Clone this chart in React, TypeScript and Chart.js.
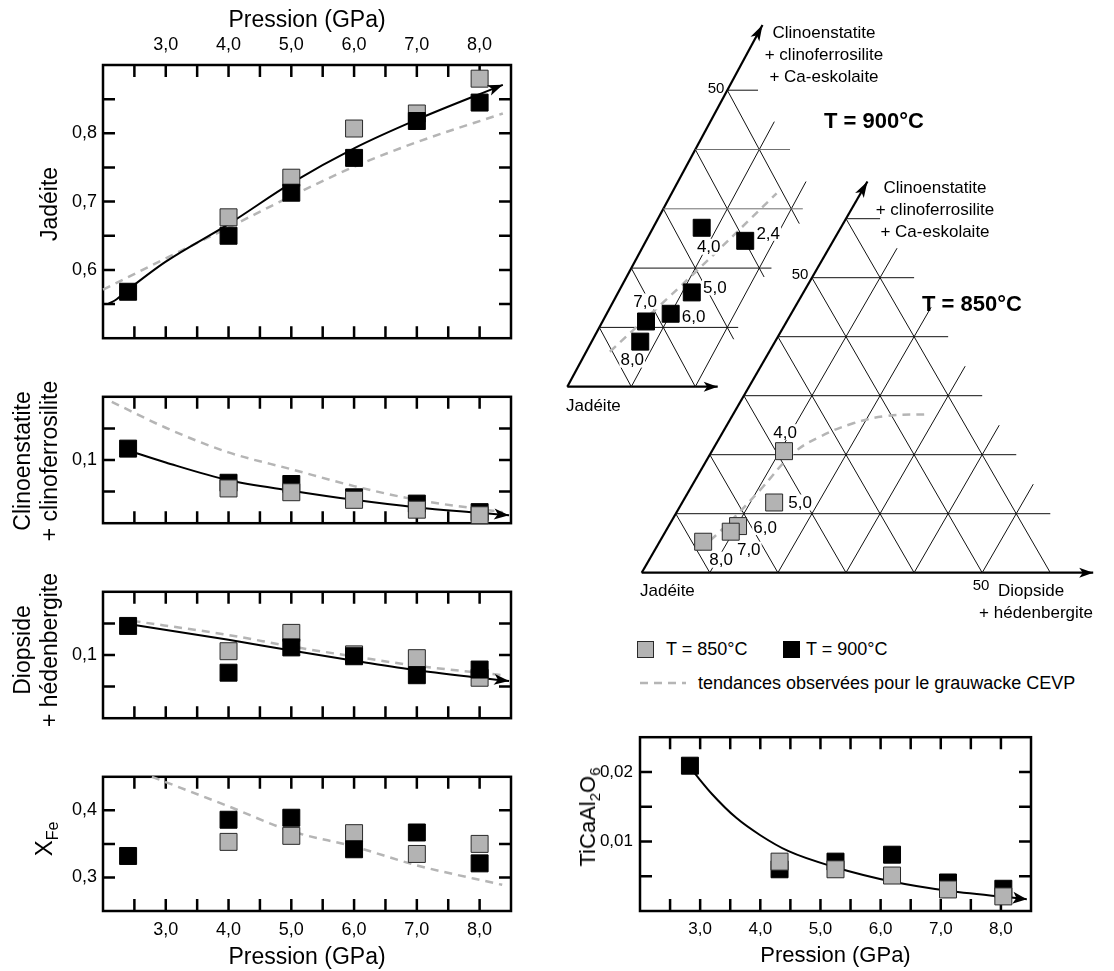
import React, { useEffect, useRef } from 'react';
import { Chart, registerables } from 'chart.js';

Chart.register(...registerables);
const FONT = "'Liberation Sans', Arial, Helvetica, sans-serif";
Chart.defaults.font.family = FONT;
Chart.defaults.color = '#000';

// ================= DATA =================
const pressures900 = [2.4, 4.0, 5.0, 6.0, 7.0, 8.0];
const pressures850 = [4.0, 5.0, 6.0, 7.0, 8.0];
const pressureLabels = [3, 4, 5, 6, 7, 8];
const pressureMarks = [2.5, 3, 3.5, 4, 4.5, 5, 5.5, 6, 6.5, 7, 7.5, 8];

// Jadéite
const jadeite900 = [0.568, 0.65, 0.713, 0.764, 0.818, 0.845];
const jadeite850 = [0.677, 0.735, 0.807, 0.829, 0.88];
const jadeiteFitP = [2.08, 2.2, 2.4, 3.0, 4.0, 5.0, 6.0, 7.0, 8.37];
const jadeiteFit = [0.55, 0.556, 0.571, 0.612, 0.667, 0.727, 0.778, 0.82, 0.871];
const jadeiteCevpP = [2.0, 3.0, 4.0, 5.0, 6.0, 7.0, 8.37];
const jadeiteCevp = [0.571, 0.617, 0.662, 0.708, 0.751, 0.787, 0.829];
const jadeiteYLabels = [0.6, 0.7, 0.8];
const jadeiteYMarks = [0.55, 0.6, 0.65, 0.7, 0.75, 0.8, 0.85];

// Clinoenstatite + clinoferrosilite
const clino900 = [0.118, 0.064, 0.062, 0.041, 0.031, 0.0175];
const clino850 = [0.055, 0.049, 0.037, 0.0214, 0.0126];
const clinoFitP = [2.4, 3.0, 4.0, 5.0, 6.0, 7.0, 8.0, 8.47];
const clinoFit = [0.115, 0.096, 0.068, 0.0515, 0.037, 0.025, 0.0165, 0.0126];
const clinoCevpP = [2.14, 3.0, 4.0, 5.0, 6.0, 7.0, 8.0, 8.37];
const clinoCevp = [0.192, 0.151, 0.112, 0.0854, 0.0587, 0.0369, 0.0223, 0.0175];

// Diopside + hédenbergite
const diop900 = [0.146, 0.072, 0.112, 0.098, 0.068, 0.077];
const diop850 = [0.106, 0.135, 0.101, 0.095, 0.064];
const diopFitP = [2.4, 4.0, 5.0, 6.0, 7.0, 8.47];
const diopFit = [0.149, 0.124, 0.107, 0.091, 0.0757, 0.0587];
const diopCevpP = [2.47, 4.0, 5.0, 6.0, 7.0, 8.37];
const diopCevp = [0.154, 0.1316, 0.1136, 0.0976, 0.083, 0.068];
const pyxYLabels = [0.1];
const pyxYMarks = [0.05, 0.1, 0.15];

// XFe
const xfe900 = [0.332, 0.386, 0.389, 0.342, 0.367, 0.321];
const xfe850 = [0.353, 0.362, 0.366, 0.335, 0.35];
const xfeCevpP = [2.78, 4.0, 5.0, 6.0, 7.0, 8.36];
const xfeCevp = [0.45, 0.406, 0.369, 0.346, 0.318, 0.289];
const xfeYLabels = [0.3, 0.4];
const xfeYMarks = [0.3, 0.35, 0.4];

// TiCaAl2O6
const tiP900 = [2.83, 4.32, 5.25, 6.19, 7.12, 8.04];
const tiP850 = [4.32, 5.25, 6.19, 7.12, 8.04];
const ti900 = [0.0209, 0.006, 0.0071, 0.0081, 0.0041, 0.0032];
const ti850 = [0.0071, 0.006, 0.0051, 0.0031, 0.0021];
const tiFitP = [2.89, 3.2, 3.6, 4.0, 4.47, 5.24, 6.21, 7.12, 8.43];
const tiFit = [0.02, 0.0168, 0.0134, 0.0109, 0.0086, 0.0063, 0.0042, 0.0029, 0.0017];
const tiYLabels = [0.01, 0.02];
const tiYMarks = [0.005, 0.01, 0.015, 0.02];

// Ternary (fractions of clinoenstatite+... apex and diopside+hédenbergite)
const tern900Labels = ['2,4', '4,0', '5,0', '6,0', '7,0', '8,0'];
const tern900Cen = [0.246, 0.268, 0.159, 0.123, 0.11, 0.076];
const tern900Di = [0.155, 0.076, 0.115, 0.1, 0.068, 0.076];
const tern850Labels = ['4,0', '5,0', '6,0', '7,0', '8,0'];
const tern850Cen = [0.206, 0.119, 0.079, 0.0695, 0.0525];
const tern850Di = [0.106, 0.135, 0.102, 0.096, 0.064];
const cevp900Cen = [0.059, 0.19, 0.326];
const cevp900Di = [0.037, 0.102, 0.164];
const cevp850Cen = [0.0385, 0.0864, 0.14, 0.2024, 0.2305, 0.2532, 0.2656, 0.2685];
const cevp850Di = [0.0663, 0.0865, 0.1037, 0.1214, 0.1465, 0.184, 0.227, 0.2843];

// ternary grid: [const value, end]
const grid900H = [[0.1, 0.217], [0.2, 0.219], [0.3, 0.218], [0.4, 0.148], [0.5, 0.048]];
const grid900D = [[0.1, 0.447], [0.2, 0.346]];
const grid900S = [[0.1, 0], [0.2, 0], [0.3, 0.08], [0.4, 0.185], [0.5, 0.275]];
const edge900 = { cen: 0.61, di: 0.235 };
const grid850H = [[0.1, 0.55], [0.2, 0.45], [0.3, 0.35], [0.4, 0.25], [0.5, 0.15], [0.6, 0.05]];
const grid850D = [[0.1, 0.55], [0.2, 0.45], [0.3, 0.35], [0.4, 0.25], [0.5, 0.15]];
const grid850S = [[0.1, 0], [0.2, 0], [0.3, 0], [0.4, 0], [0.5, 0], [0.6, 0]];
const edge850 = { cen: 0.663, di: 0.663 };

// ================= STYLE / LAYOUT =================
const GRAY_FILL = '#b3b3b3';
const GRAY_EDGE = '#2a2a2a';
const DASH_COLOR = '#b5b5b5';
const DASH = [8, 6];
const SQUARE_R = 12;
const grid900HColors = ['#111', '#111', '#707070', '#707070', '#111'];
const grid850HColors = ['#111', '#111', '#111', '#111', '#111', '#111'];

const label900Offsets = [[23, -8], [7, 19], [23, -5], [23, 3], [-1, -20], [-8, 18]];
const label850Offsets = [[1, -19], [26, 0], [27, 1], [18, 18], [18, 18]];

const TERN900 = { ox: 567.3, oy: 386.7, sx: 640, sy: 593, left: 560, top: 15, width: 270, height: 385 };
const TERN850 = { ox: 641.7, oy: 572.7, sx: 681, sy: 590, left: 630, top: 170, width: 480, height: 420 };

const fmt = (d: number) => (v: any) => Number(v).toFixed(d).replace('.', ',');
const zip = (xs: number[], ys: number[]) => xs.map((x, i) => ({ x, y: ys[i] }));

// ================= PLUGINS =================
const framePlugin = {
  id: 'frameTicks',
  beforeDatasetsDraw(chart: any, _a: any, opts: any) {
    if (!opts || !opts.xTicks) return;
    const { ctx, chartArea: a } = chart;
    const xs = chart.scales.x;
    const ys = chart.scales.y;
    const L = opts.len;
    ctx.save();
    ctx.strokeStyle = '#000';
    ctx.lineWidth = opts.width;
    ctx.beginPath();
    opts.xTicks.forEach((v: number) => {
      const p = xs.getPixelForValue(v);
      ctx.moveTo(p, a.top);
      ctx.lineTo(p, a.top + L);
      ctx.moveTo(p, a.bottom);
      ctx.lineTo(p, a.bottom - L);
    });
    opts.yTicks.forEach((v: number) => {
      const p = ys.getPixelForValue(v);
      ctx.moveTo(a.left, p);
      ctx.lineTo(a.left + L, p);
      ctx.moveTo(a.right, p);
      ctx.lineTo(a.right - L, p);
    });
    ctx.stroke();
    ctx.strokeRect(a.left, a.top, a.right - a.left, a.bottom - a.top);
    ctx.restore();
  },
};

const arrowPlugin = {
  id: 'arrowHeads',
  afterDatasetsDraw(chart: any) {
    const ctx = chart.ctx;
    chart.data.datasets.forEach((ds: any, i: number) => {
      if (!ds.arrowHead) return;
      const pts = chart.getDatasetMeta(i).data;
      const n = pts.length;
      if (n < 2) return;
      const a = pts[n - 2];
      const b = pts[n - 1];
      const ang = Math.atan2(b.y - a.y, b.x - a.x);
      const { len, width } = ds.arrowHead;
      ctx.save();
      ctx.translate(b.x, b.y);
      ctx.rotate(ang);
      ctx.beginPath();
      ctx.moveTo(0, 0);
      ctx.lineTo(-len, -width / 2);
      ctx.lineTo(-len * 0.75, 0);
      ctx.lineTo(-len, width / 2);
      ctx.closePath();
      ctx.fillStyle = '#000';
      ctx.fill();
      ctx.restore();
    });
  },
};

const labelPlugin = {
  id: 'pointLabels',
  afterDatasetsDraw(chart: any) {
    const ctx = chart.ctx;
    chart.data.datasets.forEach((ds: any, i: number) => {
      if (!ds.pointLabels) return;
      const meta = chart.getDatasetMeta(i);
      ctx.save();
      ctx.font = `17px ${FONT}`;
      ctx.textAlign = 'center';
      ctx.textBaseline = 'middle';
      meta.data.forEach((el: any, j: number) => {
        const [dx, dy] = ds.labelOffsets[j];
        const x = el.x + dx;
        const y = el.y + dy;
        const t = ds.pointLabels[j];
        const w = ctx.measureText(t).width;
        ctx.fillStyle = '#fff';
        ctx.fillRect(x - w / 2 - 1, y - 8, w + 2, 16);
        ctx.fillStyle = '#000';
        ctx.fillText(t, x, y + 1);
      });
      ctx.restore();
    });
  },
};

// ================= BUILDERS =================
function squares(xs: number[], ys: number[], kind: 'black' | 'gray') {
  return {
    data: zip(xs, ys),
    showLine: false,
    pointStyle: 'rect',
    pointRadius: SQUARE_R,
    pointHoverRadius: SQUARE_R,
    backgroundColor: kind === 'black' ? '#000' : GRAY_FILL,
    borderColor: kind === 'black' ? '#000' : GRAY_EDGE,
    borderWidth: 1,
    clip: false,
  };
}

function trend(xs: number[], ys: number[], kind: 'solid' | 'dashed', arrow?: any) {
  return {
    data: zip(xs, ys),
    showLine: true,
    pointRadius: 0,
    pointHoverRadius: 0,
    borderColor: kind === 'solid' ? '#000' : DASH_COLOR,
    borderWidth: kind === 'solid' ? 2 : 2.5,
    borderDash: kind === 'solid' ? [] : DASH,
    cubicInterpolationMode: 'monotone',
    fill: false,
    clip: false,
    arrowHead: arrow,
  };
}

function pressureConfig(o: any) {
  const xScale: any = {
    type: 'linear',
    min: 2,
    max: 8.5,
    display: !!o.xAxis,
    position: o.xAxis || 'bottom',
    grid: { display: false, drawTicks: false },
    border: { display: false },
    ticks: {
      font: { size: o.tickSize },
      padding: o.xTickPad,
      autoSkip: false,
      maxRotation: 0,
      minRotation: 0,
      color: '#000',
      callback: fmt(1),
    },
    afterBuildTicks: (s: any) => {
      s.ticks = pressureLabels.map((v) => ({ value: v }));
    },
    afterFit: (s: any) => {
      s.height = o.xHeight || 0;
    },
    title: {
      display: !!o.xAxis,
      text: 'Pression (GPa)',
      font: { size: o.titleSize },
      padding: o.xTitlePad,
      color: '#000',
    },
  };
  const yScale: any = {
    type: 'linear',
    min: o.yMin,
    max: o.yMax,
    position: 'left',
    grid: { display: false, drawTicks: false },
    border: { display: false },
    ticks: {
      font: { size: o.tickSize },
      padding: o.yTickPad,
      color: '#000',
      callback: fmt(o.yDigits),
    },
    afterBuildTicks: (s: any) => {
      s.ticks = o.yLabels.map((v: number) => ({ value: v }));
    },
    afterFit: (s: any) => {
      s.width = o.yWidth;
    },
  };
  return {
    type: 'scatter',
    data: { datasets: o.datasets },
    options: {
      responsive: false,
      animation: false,
      events: [],
      layout: { padding: o.padding, autoPadding: false },
      scales: { x: xScale, y: yScale },
      plugins: {
        legend: { display: false },
        tooltip: { enabled: false },
        frameTicks: { xTicks: pressureMarks, yTicks: o.yMarks, len: 12, width: 2.5 },
      },
    },
    plugins: [framePlugin, arrowPlugin],
  };
}

const ARROW_L = { len: 15, width: 11 };
const leftCommon = { tickSize: 18, titleSize: 23, yTickPad: 6, yWidth: 103 };

const makeJadeite = () =>
  pressureConfig({
    ...leftCommon,
    datasets: [
      squares(pressures900, jadeite900, 'black'),
      squares(pressures850, jadeite850, 'gray'),
      trend(jadeiteFitP, jadeiteFit, 'solid', ARROW_L),
      trend(jadeiteCevpP, jadeiteCevp, 'dashed'),
    ],
    yMin: 0.5, yMax: 0.9, yLabels: jadeiteYLabels, yMarks: jadeiteYMarks, yDigits: 1,
    xAxis: 'top', xHeight: 65, xTickPad: 9, xTitlePad: { top: 7, bottom: 0 },
    padding: { left: 0, right: 19, top: 0, bottom: 14 },
  });

const makeClino = () =>
  pressureConfig({
    ...leftCommon,
    datasets: [
      squares(pressures850, clino850, 'gray'),
      squares(pressures900, clino900, 'black'),
      trend(clinoFitP, clinoFit, 'solid', ARROW_L),
      trend(clinoCevpP, clinoCevp, 'dashed'),
    ],
    yMin: 0, yMax: 0.2, yLabels: pyxYLabels, yMarks: pyxYMarks, yDigits: 1,
    xAxis: null,
    padding: { left: 0, right: 19, top: 12.7, bottom: 9 },
  });

const makeDiop = () =>
  pressureConfig({
    ...leftCommon,
    datasets: [
      squares(pressures900, diop900, 'black'),
      squares(pressures850, diop850, 'gray'),
      trend(diopFitP, diopFit, 'solid', ARROW_L),
      trend(diopCevpP, diopCevp, 'dashed'),
    ],
    yMin: 0, yMax: 0.2, yLabels: pyxYLabels, yMarks: pyxYMarks, yDigits: 1,
    xAxis: null,
    padding: { left: 0, right: 19, top: 10, bottom: 13.3 },
  });

const makeXfe = () =>
  pressureConfig({
    ...leftCommon,
    datasets: [
      squares(pressures900, xfe900, 'black'),
      squares(pressures850, xfe850, 'gray'),
      trend(xfeCevpP, xfeCevp, 'dashed'),
    ],
    yMin: 0.25, yMax: 0.45, yLabels: xfeYLabels, yMarks: xfeYMarks, yDigits: 1,
    xAxis: 'bottom', xHeight: 60, xTickPad: 8, xTitlePad: { top: 0, bottom: 0 },
    padding: { left: 0, right: 19, top: 12.7, bottom: 0 },
  });

const makeTi = () =>
  pressureConfig({
    tickSize: 17, titleSize: 22, yTickPad: 7, yWidth: 80,
    datasets: [
      squares(tiP850, ti850, 'gray'),
      squares(tiP900, ti900, 'black'),
      trend(tiFitP, tiFit, 'solid', { len: 14, width: 12 }),
    ],
    yMin: 0, yMax: 0.025, yLabels: tiYLabels, yMarks: tiYMarks, yDigits: 2,
    xAxis: 'bottom', xHeight: 60, xTickPad: 8, xTitlePad: { top: 0, bottom: 2 },
    padding: { left: 0, right: 83, top: 13.3, bottom: 0 },
  });

function ternaryConfig(
  g: any, gridH: number[][], hColors: string[], gridD: number[][], gridS: number[][], edge: any,
  cen: number[], di: number[], labels: string[], offsets: number[][], kind: 'black' | 'gray',
  cevpCen: number[], cevpDi: number[],
) {
  const toXY = (c: number, d: number) => ({ x: d + c / 2, y: c });
  const seg = (c1: number, d1: number, c2: number, d2: number, width: number, color = '#111', arrow?: any) => ({
    data: [toXY(c1, d1), toXY(c2, d2)],
    showLine: true,
    pointRadius: 0,
    pointHoverRadius: 0,
    borderColor: color,
    borderWidth: width,
    tension: 0,
    clip: false,
    arrowHead: arrow,
  });
  const pts: any = {
    data: cen.map((c, i) => toXY(c, di[i])),
    showLine: false,
    pointStyle: 'rect',
    pointRadius: SQUARE_R,
    pointHoverRadius: SQUARE_R,
    backgroundColor: kind === 'black' ? '#000' : GRAY_FILL,
    borderColor: kind === 'black' ? '#000' : GRAY_EDGE,
    borderWidth: 1,
    clip: false,
    pointLabels: labels,
    labelOffsets: offsets,
  };
  const cevp: any = {
    data: cevpCen.map((c, i) => toXY(c, cevpDi[i])),
    showLine: true,
    pointRadius: 0,
    pointHoverRadius: 0,
    borderColor: DASH_COLOR,
    borderWidth: 2.5,
    borderDash: DASH,
    tension: 0.4,
    clip: false,
  };
  const gridSets: any[] = [];
  gridH.forEach(([c, dEnd], i) => gridSets.push(seg(c, 0, c, dEnd, 1, hColors[i])));
  gridD.forEach(([d, cEnd]) => gridSets.push(seg(0, d, cEnd, d, 1)));
  gridS.forEach(([s, cEnd]) => gridSets.push(seg(s, 0, cEnd, s - cEnd, 1)));
  const edges = [
    seg(0, 0, edge.cen, 0, 2.2, '#000', { len: 16, width: 10 }),
    seg(0, 0, 0, edge.di, 2.2, '#000', { len: 14, width: 10 }),
  ];
  return {
    type: 'scatter',
    data: { datasets: [pts, cevp, ...gridSets, ...edges] },
    options: {
      responsive: false,
      animation: false,
      events: [],
      layout: { padding: 0, autoPadding: false },
      scales: {
        x: { type: 'linear', display: false, min: (g.left - g.ox) / g.sx, max: (g.left + g.width - g.ox) / g.sx },
        y: { type: 'linear', display: false, min: (g.oy - (g.top + g.height)) / g.sy, max: (g.oy - g.top) / g.sy },
      },
      plugins: { legend: { display: false }, tooltip: { enabled: false } },
    },
    plugins: [arrowPlugin, labelPlugin],
  };
}

const makeTern900 = () =>
  ternaryConfig(TERN900, grid900H, grid900HColors, grid900D, grid900S, edge900, tern900Cen, tern900Di, tern900Labels, label900Offsets, 'black', cevp900Cen, cevp900Di);
const makeTern850 = () =>
  ternaryConfig(TERN850, grid850H, grid850HColors, grid850D, grid850S, edge850, tern850Cen, tern850Di, tern850Labels, label850Offsets, 'gray', cevp850Cen, cevp850Di);

// ================= COMPONENTS =================
function ChartCanvas({ left, top, width, height, make }: any) {
  const ref = useRef<HTMLCanvasElement>(null);
  useEffect(() => {
    const chart = new Chart(ref.current as HTMLCanvasElement, make());
    return () => chart.destroy();
  }, []);
  return (
    <canvas
      ref={ref}
      width={width}
      height={height}
      style={{ position: 'absolute', left, top, width, height }}
    />
  );
}

function Txt({ x, y, size, bold, align = 'center', children }: any) {
  const tx = align === 'center' ? '-50%' : align === 'right' ? '-100%' : '0';
  return (
    <div
      style={{
        position: 'absolute', left: x, top: y, transform: `translate(${tx}, -50%)`,
        fontSize: size, fontWeight: bold ? 'bold' : 'normal', fontFamily: FONT,
        whiteSpace: 'nowrap', lineHeight: 1, color: '#000',
      }}
    >
      {children}
    </div>
  );
}

function VTxt({ x, y, size, lineH, children }: any) {
  return (
    <div
      style={{
        position: 'absolute', left: x, top: y, transform: 'translate(-50%, -50%) rotate(-90deg)',
        fontSize: size, fontFamily: FONT, whiteSpace: 'nowrap', lineHeight: lineH ? `${lineH}px` : 1,
        textAlign: 'center', color: '#000',
      }}
    >
      {children}
    </div>
  );
}

export default function App() {
  return (
    <div style={{ position: 'absolute', left: 0, top: 0, width: 1114, height: 971, background: '#fff', overflow: 'hidden', fontFamily: FONT }}>
      <ChartCanvas left={0} top={0} width={530} height={355} make={makeJadeite} />
      <ChartCanvas left={0} top={380} width={530} height={160} make={makeClino} />
      <ChartCanvas left={0} top={575} width={530} height={160} make={makeDiop} />
      <ChartCanvas left={0} top={760} width={530} height={211} make={makeXfe} />
      <ChartCanvas left={560} top={720} width={554} height={251} make={makeTi} />
      <ChartCanvas left={TERN900.left} top={TERN900.top} width={TERN900.width} height={TERN900.height} make={makeTern900} />
      <ChartCanvas left={TERN850.left} top={TERN850.top} width={TERN850.width} height={TERN850.height} make={makeTern850} />

      {/* left y-axis titles */}
      <VTxt x={49} y={204} size={23}>Jadéite</VTxt>
      <VTxt x={36} y={461} size={23} lineH={27}>
        <div>Clinoenstatite</div>
        <div>+ clinoferrosilite</div>
      </VTxt>
      <VTxt x={36} y={650} size={23} lineH={27}>
        <div>Diopside</div>
        <div>+ hédenbergite</div>
      </VTxt>
      <VTxt x={44} y={839} size={24}>
        X<span style={{ fontSize: 16, position: 'relative', top: 6 }}>Fe</span>
      </VTxt>
      <VTxt x={588} y={817} size={22}>
        TiCaAl<span style={{ fontSize: 15, position: 'relative', top: 5 }}>2</span>O
        <span style={{ fontSize: 15, position: 'relative', top: 5 }}>6</span>
      </VTxt>

      {/* ternary 900 texts */}
      <Txt x={824} y={32} size={17}>Clinoenstatite</Txt>
      <Txt x={824} y={54} size={17}>+ clinoferrosilite</Txt>
      <Txt x={824} y={76} size={17}>+ Ca-eskolaite</Txt>
      <Txt x={716} y={87} size={15}>50</Txt>
      <Txt x={874} y={121} size={22} bold>T = 900°C</Txt>
      <Txt x={566} y={405} size={17} align="left">Jadéite</Txt>

      {/* ternary 850 texts */}
      <Txt x={935} y={187} size={17}>Clinoenstatite</Txt>
      <Txt x={935} y={209} size={17}>+ clinoferrosilite</Txt>
      <Txt x={935} y={231} size={17}>+ Ca-eskolaite</Txt>
      <Txt x={800} y={273} size={15}>50</Txt>
      <Txt x={972} y={304} size={22} bold>T = 850°C</Txt>
      <Txt x={640} y={590} size={17} align="left">Jadéite</Txt>
      <Txt x={981} y={584} size={15}>50</Txt>
      <Txt x={998} y={590} size={17} align="left">Diopside</Txt>
      <Txt x={1093} y={612} size={17} align="right">+ hédenbergite</Txt>

      {/* legend */}
      <div style={{ position: 'absolute', left: 637, top: 641, width: 17, height: 17, boxSizing: 'border-box', background: GRAY_FILL, border: `1px solid ${GRAY_EDGE}` }} />
      <Txt x={666} y={649} size={18} align="left">T = 850°C</Txt>
      <div style={{ position: 'absolute', left: 783, top: 641, width: 17, height: 17, background: '#000' }} />
      <Txt x={806} y={649} size={18} align="left">T = 900°C</Txt>
      <svg style={{ position: 'absolute', left: 638, top: 677 }} width={50} height={12}>
        <line x1={2} y1={6} x2={48} y2={6} stroke={DASH_COLOR} strokeWidth={2.5} strokeDasharray="8 6" />
      </svg>
      <Txt x={698} y={683} size={18} align="left">tendances observées pour le grauwacke CEVP</Txt>
    </div>
  );
}
